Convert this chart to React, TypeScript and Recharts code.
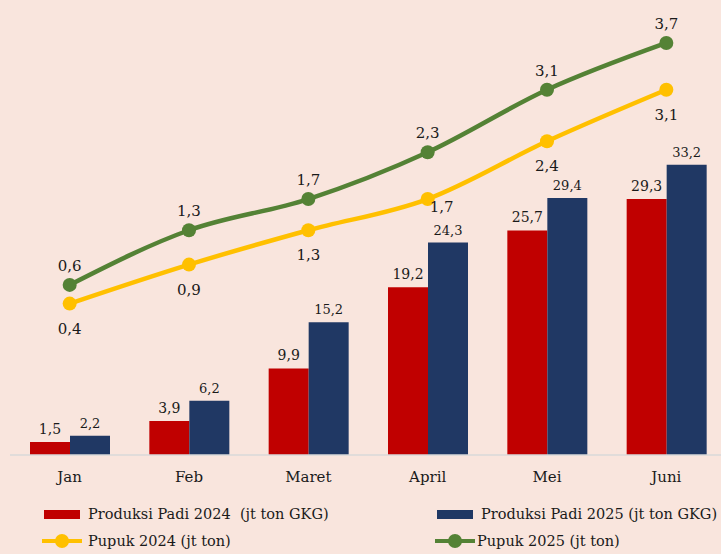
import { ComposedChart, Bar, Line, XAxis, YAxis, LabelList } from 'recharts';

const months = ['Jan', 'Feb', 'Maret', 'April', 'Mei', 'Juni'];
const padi2024 = [1.5, 3.9, 9.9, 19.2, 25.7, 29.3];
const padi2025 = [2.2, 6.2, 15.2, 24.3, 29.4, 33.2];
const pupuk2024 = [0.36, 0.86, 1.3, 1.7, 2.44, 3.1];
const pupuk2025 = [0.6, 1.3, 1.7, 2.3, 3.1, 3.7];

const data = months.map((m, i) => ({
  name: m,
  padi2024: padi2024[i],
  padi2025: padi2025[i],
  pupuk2024: pupuk2024[i],
  pupuk2025: pupuk2025[i],
}));

const RED = '#C00000';
const NAVY = '#203864';
const YELLOW = '#FFC000';
const GREEN = '#548235';
const FONT = '"DejaVu Serif", serif';

const fmt = (v: any) => Number(v).toFixed(1).replace('.', ',');

// yellow labels sit below the point, except April which is nudged right to clear the bar label
const YellowLabel = (props: any) => {
  const { x, y, value, index } = props;
  const nudged = index === 3;
  return (
    <text
      x={x + (nudged ? 14 : 0)}
      y={y + (nudged ? 13 : 30)}
      textAnchor="middle"
      fill="#1a1a1a"
      fontSize={15}
      fontFamily={FONT}
    >
      {fmt(value)}
    </text>
  );
};

function LineKey({ color }: { color: string }) {
  return (
    <svg width={40} height={16} style={{ display: 'block' }}>
      <line x1={0} y1={8} x2={40} y2={8} stroke={color} strokeWidth={4} strokeLinecap="round" />
      <circle cx={20} cy={8} r={7} fill={color} />
    </svg>
  );
}

export default function App() {
  const itemText = { fontFamily: FONT, fontSize: 14.5, color: '#1a1a1a', whiteSpace: 'pre' as const };
  return (
    <div
      style={{
        position: 'absolute',
        left: 0,
        top: 0,
        width: 721,
        height: 554,
        overflow: 'hidden',
        background: '#F9E5DD',
      }}
    >
      <ComposedChart
        width={730}
        height={554}
        data={data}
        margin={{ top: 18, right: 4, left: 10, bottom: 69 }}
        barGap={0}
      >
        <XAxis
          dataKey="name"
          height={30}
          axisLine={{ stroke: '#D9D9D9', strokeWidth: 1.5 }}
          tickLine={false}
          tickMargin={10}
          tick={{ fill: '#1a1a1a', fontSize: 15, fontFamily: FONT }}
        />
        <YAxis yAxisId="left" hide domain={[0, 50]} />
        <YAxis yAxisId="right" orientation="right" hide domain={[-1.58, 4.02]} />
        <Bar yAxisId="left" dataKey="padi2024" fill={RED} barSize={40} isAnimationActive={false}>
          <LabelList
            dataKey="padi2024"
            position="top"
            offset={8}
            formatter={fmt}
            style={{ fill: '#1a1a1a', fontSize: 14, fontFamily: FONT }}
          />
        </Bar>
        <Bar yAxisId="left" dataKey="padi2025" fill={NAVY} barSize={40} isAnimationActive={false}>
          <LabelList
            dataKey="padi2025"
            position="top"
            offset={8}
            formatter={fmt}
            style={{ fill: '#1a1a1a', fontSize: 13, fontFamily: FONT }}
          />
        </Bar>
        <Line
          yAxisId="right"
          type="monotone"
          dataKey="pupuk2024"
          stroke={YELLOW}
          strokeWidth={4.5}
          dot={{ r: 7, fill: YELLOW, stroke: 'none' }}
          isAnimationActive={false}
        >
          <LabelList dataKey="pupuk2024" content={YellowLabel} />
        </Line>
        <Line
          yAxisId="right"
          type="monotone"
          dataKey="pupuk2025"
          stroke={GREEN}
          strokeWidth={4.5}
          dot={{ r: 7, fill: GREEN, stroke: 'none' }}
          isAnimationActive={false}
        >
          <LabelList
            dataKey="pupuk2025"
            position="top"
            offset={14}
            formatter={fmt}
            style={{ fill: '#1a1a1a', fontSize: 15, fontFamily: FONT }}
          />
        </Line>
      </ComposedChart>

      <div style={{ position: 'absolute', left: 44, top: 506, display: 'flex', alignItems: 'center' }}>
        <div style={{ width: 36, height: 9, background: RED, marginRight: 8 }} />
        <span style={itemText}>Produksi Padi 2024  (jt ton GKG)</span>
      </div>
      <div style={{ position: 'absolute', left: 437, top: 506, display: 'flex', alignItems: 'center' }}>
        <div style={{ width: 36, height: 9, background: NAVY, marginRight: 8 }} />
        <span style={itemText}>Produksi Padi 2025 (jt ton GKG)</span>
      </div>
      <div style={{ position: 'absolute', left: 42, top: 533, display: 'flex', alignItems: 'center' }}>
        <LineKey color={YELLOW} />
        <span style={{ ...itemText, marginLeft: 6 }}>Pupuk 2024 (jt ton)</span>
      </div>
      <div style={{ position: 'absolute', left: 435, top: 533, display: 'flex', alignItems: 'center' }}>
        <LineKey color={GREEN} />
        <span style={{ ...itemText, marginLeft: 2 }}>Pupuk 2025 (jt ton)</span>
      </div>
    </div>
  );
}
